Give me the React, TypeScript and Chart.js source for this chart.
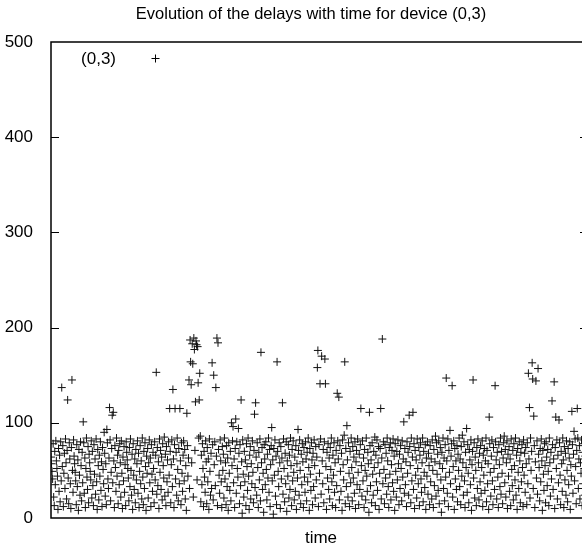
import React, { useEffect, useRef } from 'react';
import { Chart, registerables } from 'chart.js';

Chart.register(...registerables);

// Delay observed at each time step (one value per step)
const delays: number[] = [
  64, 57, 49, 41, 78, 22, 13, 70, 35, 81, 60, 52, 44, 9, 73, 28, 66, 17, 80, 39,
  137, 54, 76, 12, 47, 68, 31, 83, 58, 20, 71, 124, 42, 15, 79, 62, 36, 10, 74, 145,
  50, 27, 82, 65, 57, 48, 39, 14, 77, 33, 61, 8, 72, 45, 24, 80, 55, 18, 69, 37,
  101, 79, 26, 63, 11, 52, 84, 43, 30, 75, 16, 67, 58, 49, 40, 81, 21, 70, 34, 13,
  77, 46, 62, 25, 83, 38, 9, 72, 55, 19, 66, 44, 80, 29, 59, 12, 74, 51, 36, 90,
  68, 23, 57, 14, 93, 79, 41, 31, 63, 116, 82, 18, 48, 73, 108, 37, 111, 60, 11, 76,
  53, 28, 84, 44, 66, 15, 71, 35, 78, 58, 22, 81, 47, 10, 64, 39, 75, 27, 56, 13,
  80, 69, 61, 52, 42, 18, 74, 33, 83, 50, 24, 67, 9, 78, 45, 30, 62, 16, 72, 40,
  57, 81, 26, 68, 11, 49, 76, 36, 60, 20, 84, 43, 14, 70, 31, 79, 54, 8, 65, 47,
  73, 21, 58, 82, 37, 63, 12, 77, 46, 28, 69, 52, 16, 80, 40, 66, 153, 25, 74, 34,
  59, 10, 83, 48, 71, 30, 64, 19, 78, 55, 42, 85, 23, 67, 13, 75, 38, 61, 27, 80,
  45, 115, 70, 16, 56, 82, 33, 135, 62, 11, 77, 115, 41, 69, 24, 84, 51, 18, 73, 36,
  115, 60, 14, 79, 47, 28, 66, 81, 39, 72, 20, 55, 8, 110, 76, 44, 63, 145, 31, 187,
  164, 140, 58, 183, 162, 22, 189, 177, 71, 122, 186, 182, 40, 180, 142, 84, 124, 152, 86, 17,
  66, 35, 78, 52, 12, 70, 43, 27, 81, 59, 15, 74, 38, 62, 9, 83, 49, 24, 68, 31,
  163, 77, 19, 150, 56, 80, 34, 137, 65, 189, 13, 184, 72, 45, 26, 82, 60, 38, 11, 75,
  50, 67, 21, 84, 41, 58, 14, 76, 33, 63, 8, 79, 47, 29, 70, 18, 100, 55, 81, 96,
  37, 62, 11, 73, 104, 26, 80, 52, 43, 94, 68, 15, 77, 34, 124, 59, 5, 82, 46, 22,
  70, 38, 61, 13, 78, 54, 29, 84, 44, 9, 66, 75, 20, 57, 36, 81, 48, 16, 71, 109,
  32, 121, 64, 24, 79, 53, 11, 69, 40, 83, 18, 174, 58, 74, 30, 47, 6, 77, 62, 35,
  80, 51, 19, 67, 42, 84, 27, 72, 12, 56, 76, 95, 39, 61, 4, 73, 45, 82, 23, 65,
  14, 164, 70, 49, 33, 79, 58, 10, 75, 41, 63, 121, 25, 83, 52, 17, 68, 36, 80, 7,
  60, 44, 77, 21, 66, 30, 84, 55, 13, 72, 39, 81, 48, 19, 64, 28, 76, 9, 57, 42,
  93, 71, 24, 82, 50, 15, 67, 35, 78, 59, 11, 74, 43, 27, 80, 62, 18, 69, 38, 84,
  53, 8, 73, 46, 29, 79, 61, 14, 68, 33, 82, 55, 21, 75, 40, 64, 158, 176, 12, 77,
  47, 141, 83, 25, 170, 60, 36, 72, 16, 80, 167, 141, 54, 9, 69, 42, 78, 30, 63, 20,
  74, 51, 84, 38, 13, 66, 45, 79, 27, 58, 11, 71, 34, 131, 81, 62, 127, 19, 76, 49,
  28, 68, 8, 82, 56, 40, 87, 164, 15, 73, 33, 97, 61, 22, 79, 47, 12, 70, 37, 84,
  53, 18, 75, 42, 64, 26, 80, 10, 59, 71, 35, 83, 48, 14, 67, 30, 77, 115, 55, 23,
  81, 39, 63, 11, 72, 50, 19, 84, 44, 28, 69, 57, 6, 111, 76, 34, 61, 16, 79, 46,
  24, 70, 53, 85, 13, 66, 38, 82, 29, 58, 75, 9, 47, 73, 115, 20, 63, 188, 36, 80,
  51, 15, 77, 42, 68, 25, 84, 60, 33, 11, 74, 46, 79, 19, 56, 71, 37, 83, 28, 65,
  8, 78, 49, 22, 70, 40, 82, 57, 14, 67, 31, 76, 52, 18, 81, 43, 62, 101, 26, 73,
  35, 59, 12, 80, 47, 69, 24, 108, 75, 55, 16, 84, 39, 64, 111, 30, 78, 10, 71, 45,
  61, 21, 83, 52, 36, 74, 13, 66, 79, 41, 27, 58, 84, 17, 70, 48, 32, 77, 9, 63,
  44, 80, 25, 68, 55, 14, 76, 38, 62, 20, 82, 50, 11, 72, 34, 59, 86, 23, 79, 46,
  67, 29, 81, 15, 57, 74, 40, 6, 69, 52, 84, 31, 63, 18, 77, 43, 147, 60, 26, 83,
  12, 71, 48, 92, 36, 65, 78, 139, 22, 54, 81, 9, 73, 41, 60, 30, 76, 17, 67, 50,
  84, 33, 62, 14, 75, 44, 87, 58, 24, 80, 39, 11, 69, 53, 94, 27, 77, 47, 16, 72,
  61, 35, 82, 8, 56, 70, 145, 42, 79, 21, 64, 50, 13, 74, 31, 83, 58, 19, 68, 38,
  76, 26, 53, 81, 12, 66, 45, 73, 29, 60, 84, 17, 71, 36, 57, 9, 106, 78, 48, 23,
  65, 82, 39, 14, 74, 52, 30, 139, 80, 61, 20, 69, 43, 11, 77, 56, 33, 84, 25, 70,
  47, 15, 63, 79, 86, 37, 72, 22, 58, 81, 10, 67, 44, 75, 28, 62, 13, 83, 51, 34,
  71, 19, 78, 55, 40, 84, 24, 66, 9, 73, 48, 31, 80, 60, 16, 69, 38, 77, 53, 12,
  82, 45, 68, 27, 74, 57, 14, 79, 36, 152, 62, 116, 21, 84, 50, 70, 163, 146, 31, 107,
  76, 11, 59, 144, 42, 81, 25, 157, 67, 53, 18, 73, 38, 83, 60, 8, 71, 46, 29, 78,
  55, 16, 80, 64, 34, 72, 49, 13, 84, 58, 23, 69, 41, 123, 77, 30, 62, 143, 10, 74,
  106, 52, 82, 20, 66, 37, 103, 79, 45, 14, 70, 57, 28, 84, 61, 11, 75, 40, 68, 24,
  81, 50, 17, 73, 35, 63, 80, 9, 56, 44, 112, 77, 26, 67, 91, 39, 83, 54, 15, 71,
  115, 84, 31, 62, 76, 20, 58, 47, 82, 13, 69, 36, 78, 52, 24, 65, 80, 42, 11, 73,
];

const yTicks: number[] = [0, 100, 200, 300, 400, 500];
const chartTitle = 'Evolution of the delays with time for device (0,3)';
const xLabel = 'time';
const seriesName = '(0,3)';

const FONT = '"Liberation Sans", Arial, Helvetica, sans-serif';

export default function App() {
  const ref = useRef<HTMLCanvasElement>(null);

  useEffect(() => {
    const canvas = ref.current;
    if (!canvas) return;
    const points = delays.map((d, i) => ({ x: i, y: d }));

    const deco = {
      id: 'deco',
      afterDraw(chart: any) {
        const { ctx, chartArea: a, scales } = chart;
        const y = scales.y;
        ctx.save();
        ctx.strokeStyle = '#000';
        ctx.lineWidth = 1.5;
        ctx.strokeRect(a.left, a.top, a.right - a.left, a.bottom - a.top);
        ctx.lineWidth = 1;
        ctx.beginPath();
        for (const v of yTicks) {
          if (v === yTicks[0] || v === yTicks[yTicks.length - 1]) continue;
          const py = Math.round(y.getPixelForValue(v)) + 0.5;
          ctx.moveTo(a.left, py);
          ctx.lineTo(a.left + 8, py);
          ctx.moveTo(a.right - 8, py);
          ctx.lineTo(a.right, py);
        }
        ctx.stroke();

        ctx.fillStyle = '#000';
        ctx.textBaseline = 'alphabetic';
        ctx.textAlign = 'center';
        ctx.font = `16.5px ${FONT}`;
        ctx.fillText(chartTitle, 311, 19);
        ctx.font = `17px ${FONT}`;
        ctx.fillText(xLabel, 321, 543);
        ctx.textAlign = 'right';
        ctx.fillText(seriesName, 116, 64);

        // legend sample
        const sx = 155.5, sy = 58.5, r = 4;
        ctx.beginPath();
        ctx.moveTo(sx - r, sy);
        ctx.lineTo(sx + r, sy);
        ctx.moveTo(sx, sy - r);
        ctx.lineTo(sx, sy + r);
        ctx.stroke();
        ctx.restore();
      },
    };

    const chart = new Chart(canvas, {
      type: 'scatter',
      data: {
        datasets: [
          {
            label: seriesName,
            data: points,
            pointStyle: 'cross',
            pointRadius: 4,
            borderWidth: 1,
            borderColor: '#111',
            backgroundColor: '#111',
          },
        ],
      },
      options: {
        responsive: false,
        animation: false,
        events: [],
        layout: { padding: { top: 42, bottom: 29, left: 0, right: 8 } },
        plugins: {
          legend: { display: false },
          title: { display: false },
          tooltip: { enabled: false },
        },
        scales: {
          x: {
            type: 'linear',
            min: 0,
            max: delays.length,
            display: false,
          },
          y: {
            min: 0,
            max: 500,
            grid: { display: false },
            border: { display: false },
            afterFit: (s: any) => {
              s.width = 51;
            },
            ticks: {
              stepSize: 100,
              color: '#000',
              padding: 10,
              font: { size: 17, family: FONT },
            },
          },
        },
      },
      plugins: [deco],
    });

    return () => chart.destroy();
  }, []);

  return (
    <div
      style={{
        position: 'absolute',
        left: 0,
        top: 0,
        width: 582,
        height: 547,
        overflow: 'hidden',
        background: '#fff',
      }}
    >
      <canvas ref={ref} width={596} height={547} style={{ display: 'block' }} />
    </div>
  );
}
